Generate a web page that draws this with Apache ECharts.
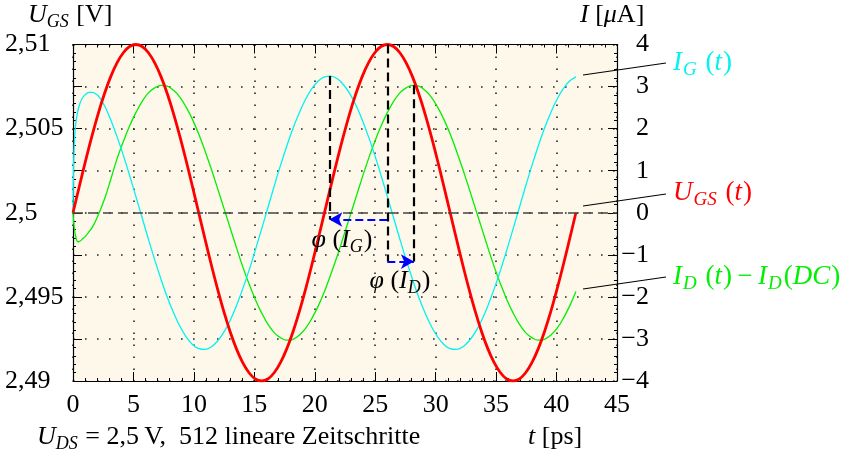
<!DOCTYPE html>
<html>
<head>
<meta charset="utf-8">
<script src="https://cdn.jsdelivr.net/npm/echarts@6/dist/echarts.min.js"></script>
<style>
  html, body { margin: 0; padding: 0; background: #ffffff; }
  #chart { width: 862px; height: 455px; }
</style>
</head>
<body>
<div id="chart"></div>
<script>
// Time samples in ps
const tU = [0, 0.52, 1.04, 1.56, 2.08, 2.6, 3.12, 3.64, 4.16, 4.68, 5.2, 5.72, 6.24, 6.76, 7.28, 7.8, 8.32, 8.84, 9.36, 9.88,
  10.4, 10.92, 11.44, 11.96, 12.48, 13, 13.52, 14.04, 14.56, 15.08, 15.6, 16.12, 16.64, 17.16, 17.68, 18.2, 18.72, 19.24, 19.76, 20.28,
  20.8, 21.32, 21.84, 22.36, 22.88, 23.4, 23.92, 24.44, 24.96, 25.48, 26, 26.52, 27.04, 27.56, 28.08, 28.6, 29.12, 29.64, 30.16, 30.68,
  31.2, 31.72, 32.24, 32.76, 33.28, 33.8, 34.32, 34.84, 35.36, 35.88, 36.4, 36.92, 37.44, 37.96, 38.48, 39, 39.52, 40.04, 40.56, 41.08, 41.6];

// Gate-source voltage in V
const uGS = [2.5, 2.50156, 2.50309, 2.50454, 2.50588, 2.50707, 2.50809, 2.50891, 2.50951, 2.50988,
  2.51, 2.50988, 2.50951, 2.50891, 2.50809, 2.50707, 2.50588, 2.50454, 2.50309, 2.50156,
  2.5, 2.49844, 2.49691, 2.49546, 2.49412, 2.49293, 2.49191, 2.49109, 2.49049, 2.49012,
  2.49, 2.49012, 2.49049, 2.49109, 2.49191, 2.49293, 2.49412, 2.49546, 2.49691, 2.49844,
  2.5, 2.50156, 2.50309, 2.50454, 2.50588, 2.50707, 2.50809, 2.50891, 2.50951, 2.50988,
  2.51, 2.50988, 2.50951, 2.50891, 2.50809, 2.50707, 2.50588, 2.50454, 2.50309, 2.50156,
  2.5, 2.49844, 2.49691, 2.49546, 2.49412, 2.49293, 2.49191, 2.49109, 2.49049, 2.49012,
  2.49, 2.49012, 2.49049, 2.49109, 2.49191, 2.49293, 2.49412, 2.49546, 2.49691, 2.49844, 2.5];

// Gate current in µA (switch-on transient, then settled)
const tG = [0, 0.04, 0.1, 0.2, 0.35, 0.55, 0.8, 1.1, 1.35, 1.6, 1.85, 2.08, 2.34, 2.6, 2.86].concat(tU.slice(6));
const iG = [0, 1.0, 1.6, 2.05, 2.35, 2.58, 2.74, 2.83, 2.86, 2.86, 2.83, 2.78, 2.68, 2.55, 2.39,
  2.21, 1.81, 1.37, 0.89, 0.39, -0.12, -0.63, -1.12, -1.58, -2.01, -2.38, -2.70, -2.95, -3.13,
  -3.23, -3.25, -3.19, -3.05, -2.84, -2.56, -2.21, -1.81, -1.37, -0.89, -0.39, 0.12, 0.63, 1.12, 1.58, 2.01, 2.38, 2.70, 2.95, 3.13,
  3.23, 3.25, 3.19, 3.05, 2.84, 2.56, 2.21, 1.81, 1.37, 0.89, 0.39, -0.12, -0.63, -1.12, -1.58, -2.01, -2.38, -2.70, -2.95, -3.13,
  -3.23, -3.25, -3.19, -3.05, -2.84, -2.56, -2.21, -1.81, -1.37, -0.89, -0.39, 0.12, 0.63, 1.12, 1.58, 2.01, 2.38, 2.70, 2.95, 3.13, 3.23];

// Drain current minus its DC value in µA
const tD = [0, 0.1, 0.25, 0.4, 0.6, 0.8, 1.07, 1.3, 1.63, 2.08, 2.6, 3.12].concat(tU.slice(7));
const iD = [0, -0.35, -0.6, -0.69, -0.67, -0.62, -0.55, -0.46, -0.33, -0.06, 0.32, 0.79,
  1.28, 1.69, 2.06, 2.38, 2.65, 2.85, 2.97, 3.03, 3.01, 2.91, 2.75, 2.51, 2.22,
  1.87, 1.47, 1.04, 0.58, 0.11, -0.36, -0.83, -1.28, -1.69, -2.06, -2.38, -2.65, -2.85, -2.97, -3.03, -3.01, -2.91, -2.75, -2.51, -2.22,
  -1.87, -1.47, -1.04, -0.58, -0.11, 0.36, 0.83, 1.28, 1.69, 2.06, 2.38, 2.65, 2.85, 2.97, 3.03, 3.01, 2.91, 2.75, 2.51, 2.22,
  1.87, 1.47, 1.04, 0.58, 0.11, -0.36, -0.83, -1.28, -1.69, -2.06, -2.38, -2.65, -2.85, -2.97, -3.03, -3.01, -2.91, -2.75, -2.51, -2.22, -1.87];

// Phase markers: peak times of I_G, U_GS, I_D (ps), peak levels and lower ends (µA scale)
const phaseT = [21.2, 26.0, 28.2];
const phaseTop = [3.25, 4.0, 3.03];
const phaseBottom = [-0.16, -1.16, -1.16];

// Axis ranges
const xTicks = { min: 0, max: 45, step: 5 };
const uTicks = { min: 2.49, max: 2.51, step: 0.0025 };
const iTicks = { min: -4, max: 4, step: 1 };

const FONT = "'Liberation Serif', 'DejaVu Serif', serif";
const FS = 26;
const rich = {
  i: { fontFamily: FONT, fontStyle: 'italic', fontSize: FS },
  r: { fontFamily: FONT, fontSize: FS },
  s: { fontFamily: FONT, fontStyle: 'italic', fontSize: 18, padding: [14, 1, 0, 0] }
};
const richLegend = {
  i: { fontFamily: FONT, fontStyle: 'italic', fontSize: 27, padding: [0, 1, 0, 0] },
  r: { fontFamily: FONT, fontSize: 27 },
  s: { fontFamily: FONT, fontStyle: 'italic', fontSize: 19, padding: [14, 2, 0, 0] }
};

const pairs = (xs, ys) => xs.map((x, k) => [x, ys[k]]);

const chart = echarts.init(document.getElementById('chart'), null, { renderer: 'canvas' });

const dotted = { color: '#222', width: 1.6, type: [1.6, 10.4] };
const tickStyle = { color: '#000', width: 1 };

const option = {
  animation: false,
  backgroundColor: '#ffffff',
  grid: { left: 73, right: 245, top: 44.5, bottom: 74, show: true, backgroundColor: '#fdf8ea', borderWidth: 0 },
  xAxis: [
    {
      type: 'value', position: 'bottom', min: xTicks.min, max: xTicks.max, interval: xTicks.step,
      axisLine: { onZero: false, lineStyle: { color: '#000', width: 1.2 } },
      axisTick: { inside: true, length: 9, lineStyle: tickStyle },
      minorTick: { show: true, splitNumber: 5, length: 3, lineStyle: tickStyle },
      splitLine: { show: true, lineStyle: dotted },
      axisLabel: { color: '#000', fontFamily: FONT, fontSize: FS, margin: 11 }
    },
    {
      type: 'value', position: 'top', min: xTicks.min, max: xTicks.max, interval: xTicks.step,
      axisLine: { onZero: false, lineStyle: { color: '#000', width: 1.2 } },
      axisTick: { inside: true, length: 9, lineStyle: tickStyle },
      minorTick: { show: true, splitNumber: 5, length: 3, lineStyle: tickStyle },
      splitLine: { show: false },
      axisLabel: { show: false }
    }
  ],
  yAxis: [
    {
      type: 'value', position: 'left', min: uTicks.min, max: uTicks.max, interval: uTicks.step,
      axisLine: { show: true, onZero: false, lineStyle: { color: '#000', width: 1.2 } },
      axisTick: { show: true, inside: true, length: 9, lineStyle: tickStyle },
      minorTick: { show: true, splitNumber: 5, length: 3, lineStyle: tickStyle },
      splitLine: { show: true, lineStyle: dotted },
      axisLabel: {
        color: '#000', fontFamily: FONT, fontSize: FS, align: 'left', margin: 68,
        formatter: v => {
          const q = v * 200;
          if (Math.abs(q - Math.round(q)) > 1e-6) return '';
          return String(Number(v.toFixed(3))).replace('.', ',');
        }
      }
    },
    {
      type: 'value', position: 'right', min: iTicks.min, max: iTicks.max, interval: iTicks.step,
      axisLine: { show: true, onZero: false, lineStyle: { color: '#000', width: 1.2 } },
      axisTick: { show: true, inside: true, length: 9, lineStyle: tickStyle },
      minorTick: { show: true, splitNumber: 5, length: 3, lineStyle: tickStyle },
      splitLine: { show: false },
      axisLabel: {
        color: '#000', fontFamily: FONT, fontSize: FS, align: 'right', margin: 32,
        formatter: v => (v < 0 ? '\u2212' + (-v) : String(v))
      }
    }
  ],
  series: [
    {
      name: 'markers', type: 'line', xAxisIndex: 0, yAxisIndex: 1, data: [], z: 6,
      markLine: {
        silent: true, symbol: 'none', animation: false,
        label: { show: false },
        data: [
          // zero line
          [{ coord: [xTicks.min, 0], lineStyle: { color: '#444', width: 1.6, type: [10, 5] } }, { coord: [xTicks.max, 0] }],
          // vertical peak markers
          ...phaseT.map((t, k) => [
            { coord: [t, phaseTop[k]], lineStyle: { color: '#000', width: 2.2, type: [9, 5] } },
            { coord: [t, phaseBottom[k]] }
          ]),
          // φ(I_G) arrow
          [
            { coord: [phaseT[1], phaseBottom[0]], symbol: 'none', lineStyle: { color: '#0000ff', width: 2.2, type: [8, 4] }, itemStyle: { color: '#0000ff' } },
            { coord: [phaseT[0], phaseBottom[0]], symbol: 'arrow', symbolSize: [11, 13], itemStyle: { color: '#0000ff' } }
          ],
          // φ(I_D) arrow
          [
            { coord: [phaseT[1], phaseBottom[1]], symbol: 'none', lineStyle: { color: '#0000ff', width: 2.2, type: [8, 4] }, itemStyle: { color: '#0000ff' } },
            { coord: [phaseT[2], phaseBottom[1]], symbol: 'arrow', symbolSize: [11, 13], itemStyle: { color: '#0000ff' } }
          ]
        ]
      },
      markPoint: {
        silent: true, symbol: 'circle', symbolSize: 0, animation: false,
        label: { show: true, color: '#000', rich: rich },
        data: [
          { coord: [22.25, -0.65], label: { formatter: '{i|\u03c6}{r| (}{i|I}{s|G}{r|)}' } },
          { coord: [27.05, -1.62], label: { formatter: '{i|\u03c6}{r| (}{i|I}{s|D}{r|)}' } }
        ]
      }
    },
    {
      name: 'I_D', type: 'line', xAxisIndex: 0, yAxisIndex: 1, data: pairs(tD, iD),
      showSymbol: false, smooth: 0.4, z: 3,
      lineStyle: { color: '#00f000', width: 1.3 }
    },
    {
      name: 'I_G', type: 'line', xAxisIndex: 0, yAxisIndex: 1, data: pairs(tG, iG),
      showSymbol: false, smooth: 0.4, z: 3,
      lineStyle: { color: '#00f2f2', width: 1.3 }
    },
    {
      name: 'U_GS', type: 'line', xAxisIndex: 0, yAxisIndex: 0, data: pairs(tU, uGS),
      showSymbol: false, smooth: 0.4, z: 4,
      lineStyle: { color: '#ff0000', width: 2.8 }
    }
  ]
};
chart.setOption(option);

// Axis titles, caption and curve names with leader lines
const txt = (x, y, text, fill, r, size) => ({
  type: 'text', x: x, y: y, silent: true,
  style: { text: text, rich: r || rich, fill: fill, align: 'left', verticalAlign: 'middle', font: (size || FS) + 'px ' + FONT }
});
const leader = (x1, y1, x2, y2) => ({
  type: 'line', silent: true, shape: { x1: x1, y1: y1, x2: x2, y2: y2 }, style: { stroke: '#000', lineWidth: 1.2 }
});
chart.setOption({
  graphic: [
    txt(28, 15, '{i|U}{s|GS}{r| [V]}', '#000'),
    txt(580, 15, '{i|I}{r| [}{i|\u03bc}{r|A]}', '#000'),
    txt(37, 437, '{i|U}{s|DS}{r| = 2,5\u2009V,  512 lineare Zeitschritte}', '#000'),
    txt(528, 437, '{i|t}{r| [ps]}', '#000'),
    leader(583, 75, 666, 63),
    txt(673, 63, '{i|I}{s|G}{r| (}{i|t}{r|)}', '#00f2f2', richLegend, 27),
    leader(583, 206, 666, 194),
    txt(673, 193, '{i|U}{s|GS}{r| (}{i|t}{r|)}', '#ff0000', richLegend, 27),
    leader(583, 289, 666, 277),
    txt(673, 277, '{i|I}{s|D}{r| (}{i|t}{r|)\u2009\u2212\u2009}{i|I}{s|D}{r|(}{i|DC}{r|)}', '#00f000', richLegend, 27)
  ]
});
</script>
</body>
</html>
